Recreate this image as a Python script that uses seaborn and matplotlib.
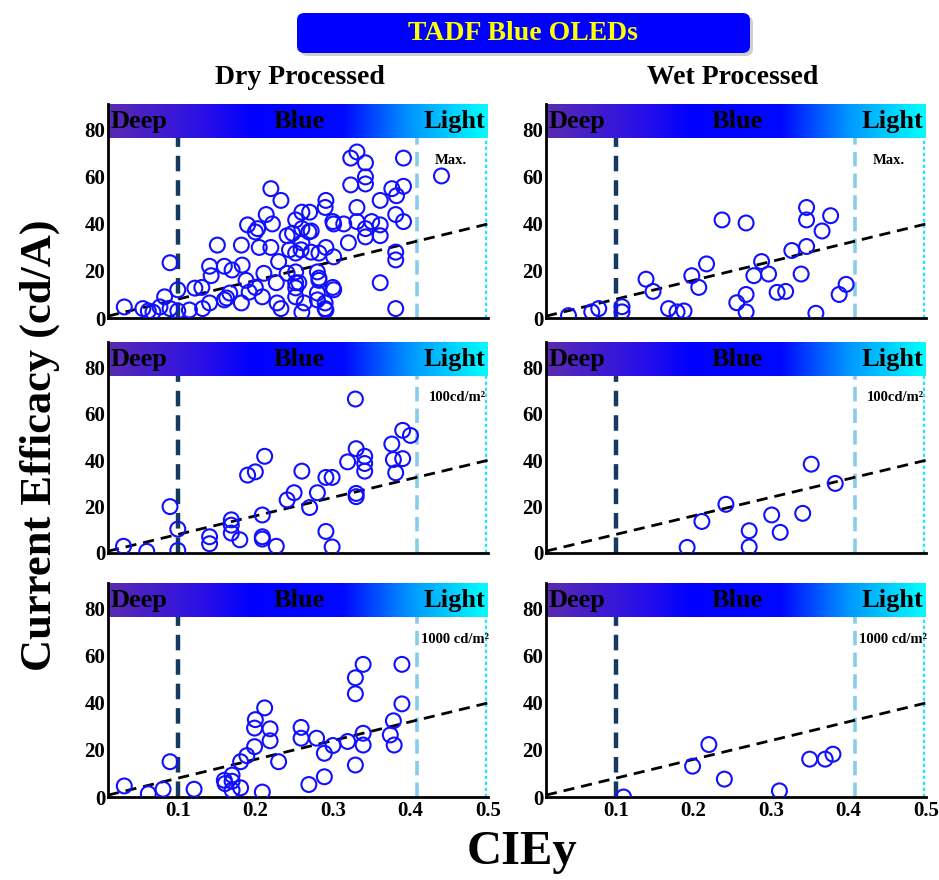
import numpy as np
import pandas as pd
import matplotlib
matplotlib.use("Agg")
import matplotlib.pyplot as plt
import seaborn as sns
from matplotlib.colors import LinearSegmentedColormap
from matplotlib.patches import FancyBboxPatch

# ---------------- data ----------------
dry_max_x = [0.031, 0.055, 0.062, 0.068, 0.077, 0.083, 0.09, 0.09, 0.1, 0.1, 0.115, 0.122, 0.131, 0.132,
             0.141, 0.141, 0.143, 0.151, 0.16, 0.16, 0.163, 0.167, 0.17, 0.182, 0.182, 0.183, 0.188, 0.19,
             0.192, 0.2, 0.2, 0.203, 0.205, 0.209, 0.211, 0.214, 0.22, 0.22, 0.222, 0.227, 0.228, 0.23,
             0.233, 0.233, 0.241, 0.241, 0.244, 0.248, 0.252, 0.252, 0.252, 0.252, 0.252, 0.252, 0.256,
             0.259, 0.26, 0.26, 0.26, 0.26, 0.263, 0.269, 0.27, 0.272, 0.272, 0.28, 0.28, 0.28, 0.282,
             0.282, 0.282, 0.29, 0.291, 0.29, 0.29, 0.291, 0.291, 0.3, 0.3, 0.301, 0.301, 0.301, 0.314,
             0.32, 0.323, 0.323, 0.331, 0.331, 0.331, 0.342, 0.342, 0.342, 0.342, 0.342, 0.35, 0.361,
             0.361, 0.361, 0.361, 0.376, 0.381, 0.381, 0.381, 0.381, 0.382, 0.391, 0.391, 0.391, 0.44]
dry_max_y = [4.7, 4, 3, 2.5, 4.7, 9, 4, 23.5, 12, 3, 3.4, 12.7, 13, 4,
             22, 6.4, 18, 31, 7.7, 22, 8.5, 10.6, 20.4, 6.4, 31, 22.5, 16, 39.6,
             11, 36.6, 13, 38, 30, 9, 19, 44, 55, 30, 40, 15, 6.4, 24,
             50, 4, 35, 19, 29, 36, 41.7, 27.6, 19.6, 12.8, 9, 15, 15,
             29, 45, 38, 32, 2.5, 6.4, 36.6, 45, 37, 28, 19.6, 10.6, 7.7, 27.6,
             17, 16, 47, 50, 4, 6.4, 30, 3.4, 41, 13, 40, 26, 12, 40,
             32, 68, 56.6, 70.6, 47, 41, 66, 60, 57, 38, 34.5, 41, 50,
             39.6, 35, 15, 55, 44, 28, 24.7, 4, 52, 68, 56, 41, 60.4]

wet_max_x = [0.039, 0.069, 0.078, 0.108, 0.108, 0.139, 0.148, 0.168, 0.179, 0.188, 0.198, 0.207, 0.217,
             0.237, 0.256, 0.268, 0.268, 0.268, 0.278, 0.288, 0.297, 0.308, 0.319, 0.327, 0.339, 0.346,
             0.346, 0.346, 0.358, 0.366, 0.377, 0.388, 0.397]
wet_max_y = [1, 2.6, 4, 4.8, 2.6, 16.5, 11.3, 4, 2.6, 3, 18, 13, 23,
             41.7, 6.5, 10, 2.6, 40.4, 18, 24, 18.7, 10.9, 11.3, 28.7, 18.7, 47,
             41.7, 30.4, 2, 37, 43.5, 10, 14.3]

dry_100_x = [0.03, 0.06, 0.09, 0.1, 0.1, 0.141, 0.141, 0.169, 0.169, 0.169, 0.18, 0.19, 0.2, 0.209,
             0.209, 0.209, 0.212, 0.227, 0.241, 0.25, 0.26, 0.27, 0.28, 0.291, 0.299, 0.291, 0.299,
             0.319, 0.329, 0.33, 0.33, 0.33, 0.341, 0.341, 0.341, 0.376, 0.378, 0.381, 0.39, 0.39, 0.4]
dry_100_y = [2.9, 0.7, 20, 10.3, 1.1, 7, 4, 14.3, 12, 8.6, 5.7, 33.6, 35, 16.4,
             7, 6, 41.7, 2.9, 22.9, 26, 35.3, 19.6, 26, 32.6, 32.6, 9.3, 2.6,
             39.3, 66.4, 45, 25.7, 24.3, 41.7, 38.6, 35.3, 47, 40.3, 34.6, 52.9, 40.7, 50.7]

wet_100_x = [0.192, 0.211, 0.242, 0.272, 0.272, 0.301, 0.312, 0.341, 0.352, 0.383]
wet_100_y = [2.4, 13.6, 21, 9.6, 2.6, 16.4, 8.9, 17.1, 38.3, 30]

dry_1000_x = [0.031, 0.062, 0.081, 0.09, 0.121, 0.16, 0.161, 0.17, 0.17, 0.17, 0.181, 0.181, 0.189,
              0.199, 0.199, 0.2, 0.209, 0.212, 0.219, 0.219, 0.23, 0.259, 0.259, 0.269, 0.279, 0.289,
              0.289, 0.3, 0.319, 0.329, 0.329, 0.329, 0.339, 0.339, 0.339, 0.374, 0.378, 0.379, 0.389, 0.389]
dry_1000_y = [4.7, 1.4, 3.3, 15, 3.3, 7.1, 5.7, 9.3, 6.7, 2.9, 3.9, 15, 17.6,
              21.4, 29.3, 32.9, 2.1, 37.9, 29, 23.9, 15, 29.6, 25, 5.3, 25, 18.6,
              8.6, 21.9, 23.6, 13.6, 43.9, 50.7, 56.4, 27.1, 22.1, 26.4, 32.4, 22.1, 56.4, 39.6]

wet_1000_x = [0.11, 0.199, 0.22, 0.24, 0.311, 0.35, 0.37, 0.38]
wet_1000_y = [0, 13.1, 22.3, 7.6, 2.6, 16.1, 16.1, 18.2]

panel_notes = ["Max.", "100cd/m²", "1000 cd/m²"]
column_titles = ["Dry Processed", "Wet Processed"]
x_ticks = [0.1, 0.2, 0.3, 0.4, 0.5]
y_ticks = [0, 20, 40, 60, 80]
trend_x = [0.01, 0.5]
trend_y = [0.8, 40]

panels = [
    [(dry_max_x, dry_max_y), (wet_max_x, wet_max_y)],
    [(dry_100_x, dry_100_y), (wet_100_x, wet_100_y)],
    [(dry_1000_x, dry_1000_y), (wet_1000_x, wet_1000_y)],
]

# ---------------- style ----------------
sns.set_theme(style="white", rc={"text.color": "black", "axes.labelcolor": "black",
                                 "xtick.color": "black", "ytick.color": "black"})
plt.rcParams["font.family"] = ["Liberation Serif", "DejaVu Serif"]
plt.rcParams["font.weight"] = "bold"

fig = plt.figure(figsize=(9.39, 8.8), dpi=100)
W, H = 939, 880

cmap = LinearSegmentedColormap.from_list(
    "bluebar",
    [(0.0, "#5a2bb0"), (0.25, "#2a10e8"), (0.38, "#0000ff"), (0.62, "#0008ff"),
     (0.8, "#0098ff"), (1.0, "#00ffff")])
grad = np.linspace(0, 1, 256).reshape(1, -1)

col_left = [108, 546]
AXW = 380
rows = [(318, 214), (553, 211), (797, 214)]
XMIN, XMAX, YMAX, BAR = 0.01, 0.5, 91, 76.5
note_x = [0.452, 0.46, 0.458]

for r, (ybot, hgt) in enumerate(rows):
    for c, xl in enumerate(col_left):
        ax = fig.add_axes([xl / W, 1 - ybot / H, AXW / W, hgt / H])
        xs, ys = panels[r][c]
        df = pd.DataFrame({"CIEy": xs, "CE": ys})
        ax.imshow(grad, aspect="auto", cmap=cmap, extent=(XMIN, XMAX, BAR, YMAX), zorder=0)
        sns.lineplot(x=trend_x, y=trend_y, ax=ax, color="black", lw=2,
                     linestyle=(0, (4, 2.5)), zorder=3)
        ax.plot([0.1, 0.1], [0, BAR], color="#16395f", lw=3.2, ls=(0, (3.5, 2)), zorder=2)
        ax.plot([0.408, 0.408], [0, BAR], color="#87cdea", lw=2.6, ls=(0, (4, 2)), zorder=2)
        ax.plot([0.497, 0.497], [0, YMAX], color="#22e6f5", lw=1.6, ls=(0, (1.5, 1.2)), zorder=2)
        sns.scatterplot(data=df, x="CIEy", y="CE", ax=ax, marker="o", s=115,
                        facecolors="none", edgecolor="#1010ff", linewidth=1.5, zorder=4)
        ax.set_xlim(XMIN, XMAX)
        ax.set_ylim(0, YMAX)
        ax.set_xticks(x_ticks)
        ax.set_yticks(y_ticks)
        ax.set_xlabel("")
        ax.set_ylabel("")
        for s in ["top", "right"]:
            ax.spines[s].set_visible(False)
        for s in ["left", "bottom"]:
            ax.spines[s].set_color("black")
            ax.spines[s].set_linewidth(2)
        ax.tick_params(axis="both", direction="in", length=3, width=1, colors="black",
                       labelsize=15, pad=3)
        ax.tick_params(axis="y", length=0, pad=2)
        for lab in ax.get_yticklabels() + ax.get_xticklabels():
            lab.set_fontweight("bold")
        if r < 2:
            ax.set_xticklabels([])
        ax.text(0.013, 83.5, "Deep", fontsize=19, fontweight="bold", color="black",
                ha="left", va="center", zorder=5)
        ax.text(0.256, 83.5, "Blue", fontsize=19, fontweight="bold", color="black",
                ha="center", va="center", zorder=5)
        ax.text(0.497, 83.5, "Light", fontsize=19, fontweight="bold", color="black",
                ha="right", va="center", zorder=5)
        ax.text(note_x[r], 67, panel_notes[r], fontsize=10.5, fontweight="bold", color="black",
                ha="center", va="center")

# column titles
fig.text(300 / W, 1 - 78 / H, column_titles[0], fontsize=20, fontweight="bold", ha="center", va="center")
fig.text(733 / W, 1 - 78 / H, column_titles[1], fontsize=20, fontweight="bold", ha="center", va="center")

# title box with shadow
shadow = FancyBboxPatch((300 / W, 1 - 56 / H), 453 / W, 40 / H, boxstyle="round,pad=0,rounding_size=0.008",
                        transform=fig.transFigure, facecolor="#a0a0a0", edgecolor="none", alpha=0.5, zorder=1)
box = FancyBboxPatch((297 / W, 1 - 53 / H), 453 / W, 40 / H, boxstyle="round,pad=0,rounding_size=0.008",
                     transform=fig.transFigure, facecolor="#0000ff", edgecolor="none", zorder=2)
fig.patches.extend([shadow, box])
fig.text(523 / W, 1 - 34 / H, "TADF Blue OLEDs", fontsize=20, fontweight="bold", color="#ffff00",
         ha="center", va="center", zorder=3)

fig.text(40 / W, 1 - 445 / H, "Current Efficacy (cd/A)", fontsize=32, fontweight="bold",
         rotation=90, ha="center", va="center")
fig.text(522 / W, 1 - 852 / H, "CIEy", fontsize=35, fontweight="bold", ha="center", va="center")

fig.savefig("out.png", dpi=100)
